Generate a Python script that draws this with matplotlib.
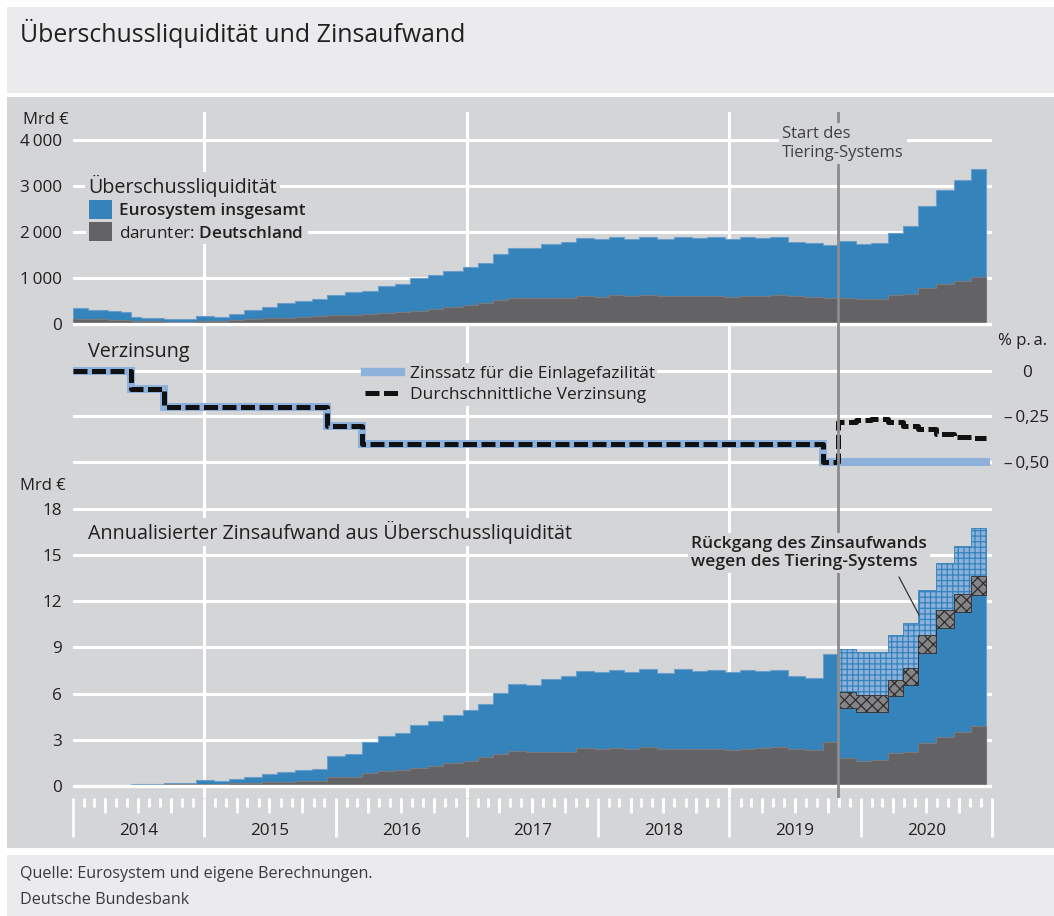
import numpy as np
import pandas as pd
import matplotlib.pyplot as plt
import matplotlib.transforms as mtransforms
from matplotlib.patches import Patch, Rectangle
from matplotlib.lines import Line2D

plt.rcParams['font.family'] = ['Open Sans', 'DejaVu Sans']
plt.rcParams['mathtext.fontset'] = 'custom'
plt.rcParams['mathtext.rm'] = 'Open Sans'
plt.rcParams['mathtext.bf'] = 'Open Sans:semibold'
plt.rcParams['hatch.linewidth'] = 0.9

# reserve maintenance periods (start dates), last entry = end of last period
period_starts = [
    "2014-01-01", "2014-01-15", "2014-02-12", "2014-03-12", "2014-04-09", "2014-05-14",
    "2014-06-11", "2014-07-09", "2014-08-13", "2014-09-10", "2014-10-08", "2014-11-12",
    "2014-12-10", "2015-01-28", "2015-03-11", "2015-04-22", "2015-06-10", "2015-07-22",
    "2015-09-09", "2015-10-28", "2015-12-09", "2016-01-27", "2016-03-16", "2016-04-27",
    "2016-06-15", "2016-07-27", "2016-09-14", "2016-10-26", "2016-12-21", "2017-02-01",
    "2017-03-15", "2017-04-26", "2017-06-14", "2017-07-26", "2017-09-20", "2017-11-01",
    "2017-12-20", "2018-01-31", "2018-03-14", "2018-04-25", "2018-06-13", "2018-08-01",
    "2018-09-19", "2018-10-31", "2018-12-19", "2019-01-30", "2019-03-13", "2019-04-24",
    "2019-06-12", "2019-07-31", "2019-09-18", "2019-10-30", "2019-12-18", "2020-01-29",
    "2020-03-18", "2020-04-29", "2020-06-10", "2020-07-29", "2020-09-16", "2020-11-04",
    "2020-12-16"]

# excess liquidity, bn EUR
el_euro = [355, 345, 315, 305, 280, 270, 160, 128, 122, 115, 110, 110,
           184, 160, 213, 300, 373, 460, 510, 553, 640, 685, 725, 820,
           870, 990, 1055, 1150, 1245, 1330, 1525, 1655, 1645, 1745, 1790, 1880,
           1855, 1888, 1855, 1900, 1845, 1900, 1880, 1895, 1855, 1885, 1880, 1885,
           1790, 1765, 1720, 1795, 1750, 1760, 1970, 2140, 2570, 2915, 3130, 3375]
el_de = [118, 115, 108, 102, 95, 90, 70, 60, 55, 50, 50, 52,
         60, 70, 85, 100, 120, 140, 155, 172, 193, 200, 208, 243,
         253, 292, 318, 368, 405, 464, 527, 566, 555, 555, 558, 617,
         595, 626, 598, 630, 608, 603, 600, 605, 587, 600, 617, 632,
         600, 585, 572, 566, 536, 548, 638, 662, 784, 880, 940, 1020]

# annualised interest expense, bn EUR
cost_euro = [0, 0, 0, 0, 0, 0, 0.13, 0.12, 0.12, 0.22, 0.22, 0.22,
             0.36, 0.30, 0.43, 0.61, 0.76, 0.93, 1.02, 1.12, 1.93, 2.05, 2.88, 3.28,
             3.47, 3.96, 4.21, 4.59, 4.96, 5.30, 6.07, 6.60, 6.57, 6.95, 7.14, 7.50,
             7.40, 7.53, 7.40, 7.58, 7.36, 7.58, 7.50, 7.56, 7.40, 7.52, 7.50, 7.52,
             7.14, 7.04, 8.58, 5.09, 4.81, 4.81, 5.82, 6.54, 8.64, 10.26, 11.30, 12.43]
cost_de = [0, 0, 0, 0, 0, 0, 0.07, 0.06, 0.05, 0.10, 0.10, 0.10,
           0.12, 0.14, 0.17, 0.20, 0.24, 0.28, 0.31, 0.34, 0.58, 0.60, 0.83, 0.97,
           1.01, 1.17, 1.27, 1.47, 1.62, 1.86, 2.11, 2.26, 2.22, 2.22, 2.23, 2.47,
           2.38, 2.50, 2.39, 2.52, 2.43, 2.41, 2.40, 2.42, 2.35, 2.40, 2.47, 2.53,
           2.40, 2.34, 2.86, 1.82, 1.60, 1.67, 2.14, 2.20, 2.77, 3.21, 3.53, 3.88]

# periods since the tiering system (last 9 periods)
n_tier = 9
cost_euro_no_tier = [8.92, 8.70, 8.70, 9.79, 10.61, 12.75, 14.48, 15.56, 16.78]
cost_de_saving = [1.01, 1.08, 1.08, 1.04, 1.12, 1.15, 1.15, 1.15, 1.19]

# interest rates, % p.a.
dfr_dates = ["2014-01-01", "2014-06-11", "2014-09-10", "2015-12-09", "2016-03-16", "2019-09-18"]
dfr_values = [0.0, -0.10, -0.20, -0.30, -0.40, -0.50]
avg_dates = ["2014-01-01", "2014-06-11", "2014-09-10", "2015-12-09", "2016-03-16", "2019-09-18",
             "2019-10-30", "2019-12-18", "2020-01-29", "2020-03-18", "2020-04-29", "2020-06-10",
             "2020-07-29", "2020-09-16", "2020-11-04"]
avg_values = [0.0, -0.10, -0.20, -0.30, -0.40, -0.50,
              -0.28, -0.27, -0.265, -0.28, -0.30, -0.32, -0.345, -0.36, -0.37]
end_date = "2020-12-16"
tiering_start = "2019-10-30"

years = list(range(2014, 2021))
grid_years = [2015, 2017, 2019]


def dec_year(s):
    d = pd.Timestamp(s)
    days = 366 if d.is_leap_year else 365
    return d.year + (d.dayofyear - 1) / days


edges = np.array([dec_year(s) for s in period_starts])
edges_tier = edges[-(n_tier + 1):]
t_tier = dec_year(tiering_start)

BG = '#d4d5d7'
HEAD = '#ebebed'
BLUE = '#3483bb'
GREY = '#636365'
LBLUE = '#8db1da'
TXT = '#231f20'

W, H = 1054, 916
fig = plt.figure(figsize=(W / 100, H / 100), dpi=100)


def rect(x0, y0, x1, y1):
    return [x0 / W, 1 - y1 / H, (x1 - x0) / W, (y1 - y0) / H]


for (x0, y0, x1, y1), c in [((7, 7, 1054, 93), HEAD), ((7, 97, 1054, 848), BG),
                            ((7, 855, 1054, 916), HEAD)]:
    r = rect(x0, y0, x1, y1)
    fig.patches.append(Rectangle((r[0], r[1]), r[2], r[3], transform=fig.transFigure,
                                 facecolor=c, edgecolor='none', zorder=-10))

fig.text(20 / W, 1 - 33 / H, 'Überschussliquidität und Zinsaufwand', fontsize=17.9,
         color=TXT, va='center', ha='left')
fig.text(20 / W, 1 - 874 / H, 'Quelle: Eurosystem und eigene Berechnungen.', fontsize=11.6,
         color='#3a3a3c', va='center')
fig.text(20 / W, 1 - 900 / H, 'Deutsche Bundesbank', fontsize=11.6, color='#3a3a3c', va='center')

ax1 = fig.add_axes(rect(73, 112, 992, 340))
ax2 = fig.add_axes(rect(73, 340, 992, 480))
ax3 = fig.add_axes(rect(73, 480, 992, 798))

for ax in (ax1, ax2, ax3):
    ax.set_facecolor('none')
    for sp in ax.spines.values():
        sp.set_visible(False)
    ax.set_xlim(2014, 2021)
    ax.set_axisbelow(True)
    for y in grid_years:
        ax.axvline(y, color='white', lw=2.2, zorder=0.5)
    ax.grid(axis='y', color='white', lw=2.2)
    ax.axvline(t_tier, color='#8c8c8e', lw=2, zorder=6)

# --- top panel: excess liquidity
ax1.set_ylim(-348, 4609)
ax1.set_xticks([])
ax1.set_yticks([0, 1000, 2000, 3000, 4000])
ax1.set_yticklabels(['0', '1\u2009000', '2\u2009000', '3\u2009000', '4\u2009000'])
ax1.tick_params(axis='y', length=0, pad=8, labelsize=12.3, labelcolor=TXT)
ax1.stairs(el_euro, edges, fill=True, facecolor=BLUE, edgecolor='#6a9fcb', lw=0.8, zorder=2)
ax1.stairs(el_de, edges, fill=True, facecolor=GREY, edgecolor='#7a7a7c', lw=0.8, zorder=2.1)
ax1.axhline(0, color='white', lw=2.4, zorder=3)
fig.text(23 / W, 1 - 120 / H, 'Mrd €', fontsize=12, color=TXT, va='center')
ytr1 = mtransforms.blended_transform_factory(ax1.transAxes, ax1.transData)
ax1.text(0.0165, 3000, 'Überschussliquidität', transform=ytr1,
         fontsize=14.2, color=TXT, va='center', ha='left', zorder=7,
         bbox=dict(facecolor=BG, edgecolor='none', pad=2))
leg1 = ax1.legend([Patch(facecolor=BLUE), Patch(facecolor=GREY)],
                  ['Eurosystem insgesamt', 'darunter: $\\mathbf{Deutschland}$'],
                  loc='upper left', bbox_to_anchor=(86 / W, 1 - 197 / H),
                  bbox_transform=fig.transFigure, frameon=True, facecolor=BG,
                  edgecolor='none', framealpha=1, fontsize=12.3, handlelength=1.35,
                  handleheight=1.35, handletextpad=0.45, labelspacing=0.2,
                  borderpad=0.15, borderaxespad=0)
leg1.get_texts()[0].set_fontweight('semibold')
for t in leg1.get_texts():
    t.set_color(TXT)
leg1.set_zorder(7)
ax1.text(2019.40, 4300, 'Start des\nTiering-Systems', fontsize=12, color='#404042',
         ha='left', va='top', linespacing=1.25, zorder=7,
         bbox=dict(facecolor=BG, edgecolor='none', pad=2))

# --- middle panel: interest rates
ax2.set_ylim(-0.597, 0.168)
ax2.set_xticks([])
ax2.set_yticks([0, -0.25, -0.5])
ax2.yaxis.tick_right()
ax2.set_yticklabels(['0', '\u2013\u20090,25', '\u2013\u20090,50'])
ax2.tick_params(axis='y', length=0, pad=25, labelsize=12.3, labelcolor=TXT)
for lab in ax2.get_yticklabels():
    lab.set_horizontalalignment('center')
dfr_x = [dec_year(d) for d in dfr_dates] + [dec_year(end_date)]
avg_x = [dec_year(d) for d in avg_dates] + [dec_year(end_date)]
ax2.step(dfr_x, dfr_values + dfr_values[-1:], where='post', color=LBLUE, lw=5.8,
         solid_joinstyle='miter', zorder=2)
ax2.step(avg_x, avg_values + avg_values[-1:], where='post', color='#111111', lw=3.6,
         dashes=(2.8, 0.9), zorder=3)
ax2.text(0.0165, (480 - 352) / 140, 'Verzinsung', transform=ax2.transAxes, fontsize=14.2,
         color=TXT, va='center')
fig.text(1023 / W, 1 - 341 / H, '% p.\u2009a.', fontsize=12, color=TXT, ha='center', va='center')
leg2 = ax2.legend([Line2D([], [], color=LBLUE, lw=6),
                   Line2D([], [], color='#111111', lw=3.6, dashes=(2.8, 0.9))],
                  ['Zinssatz für die Einlagefazilität', 'Durchschnittliche Verzinsung'],
                  loc='upper left', bbox_to_anchor=(362 / W, 1 - 363 / H),
                  bbox_transform=fig.transFigure, frameon=True, facecolor=BG,
                  edgecolor='none', framealpha=1, fontsize=12.5, handlelength=2.1,
                  handletextpad=0.5, labelspacing=0.3, borderpad=0.15, borderaxespad=0)
for t in leg2.get_texts():
    t.set_color(TXT)

# --- bottom panel: interest expense
ax3.set_ylim(-0.78, 19.88)
ax3.set_yticks([0, 3, 6, 9, 12, 15, 18])
ax3.tick_params(axis='y', length=0, pad=8, labelsize=12.3, labelcolor=TXT)
ax3.stairs(cost_euro, edges, fill=True, facecolor=BLUE, edgecolor='#6a9fcb', lw=0.8, zorder=2)
ax3.stairs(cost_de, edges, fill=True, facecolor=GREY, edgecolor='#7a7a7c', lw=0.8, zorder=2.1)
blue_tier = np.array(cost_euro[-n_tier:])
ax3.stairs(cost_euro_no_tier, edges_tier, baseline=blue_tier, fill=True, facecolor=LBLUE,
           edgecolor=BLUE, hatch='+++', lw=0.6, zorder=2.2)
ax3.stairs(blue_tier + np.array(cost_de_saving), edges_tier, baseline=blue_tier, fill=True,
           facecolor='#858587', edgecolor='#2e2e30', hatch='xxx', lw=0.6, zorder=2.3)
ax3.axhline(0, color='white', lw=2.4, zorder=3)
fig.text(20 / W, 1 - 486 / H, 'Mrd €', fontsize=12, color=TXT, va='center')
ax3.text(0.0165, (798 - 532) / 318, 'Annualisierter Zinsaufwand aus Überschussliquidität',
         transform=ax3.transAxes, fontsize=14.2, color=TXT, va='center', zorder=7,
         bbox=dict(facecolor=BG, edgecolor='none', pad=2))
ax3.text((691 - 73) / 919, (798 - 553) / 318, 'Rückgang des Zinsaufwands\nwegen des Tiering-Systems',
         transform=ax3.transAxes, fontsize=12.5, fontweight='semibold', color=TXT,
         va='center', ha='left', linespacing=1.2, zorder=7,
         bbox=dict(facecolor=BG, edgecolor='none', pad=2))
ax3.annotate('', xy=(edges_tier[5] + 0.005, 11.1), xytext=(899, H - 577),
             textcoords='figure pixels',
             arrowprops=dict(arrowstyle='-', color='#333333', lw=0.9, shrinkA=0, shrinkB=0),
             zorder=7)

# x axis ticks (years, quarters, months)
ax3.set_xticks(years + [2021])
ax3.set_xticklabels([])
months = [dec_year(d) for d in pd.date_range('2014-02-01', '2020-12-01', freq='MS')]
ax3.set_xticks(months, minor=True)
ax3.tick_params(axis='x', which='major', length=28, width=2, color='white', direction='out')
ax3.tick_params(axis='x', which='minor', length=6.5, width=2, color='white', direction='out')
quarters = [dec_year(d) for d in pd.date_range('2014-04-01', '2020-10-01', freq='QS')
            if d.month != 1]
sec = ax3.secondary_xaxis('bottom')
sec.set_xticks(quarters)
sec.set_xticklabels([])
sec.tick_params(axis='x', length=11, width=2, color='white', direction='out')
sec.spines['bottom'].set_visible(False)
ytr = mtransforms.blended_transform_factory(ax3.transData, ax3.transAxes)
for y in years:
    ax3.text(y + 0.5, -33 / 318, str(y), transform=ytr, ha='center', va='center',
             fontsize=12.3, color=TXT)

fig.savefig('out.png', dpi=100)
